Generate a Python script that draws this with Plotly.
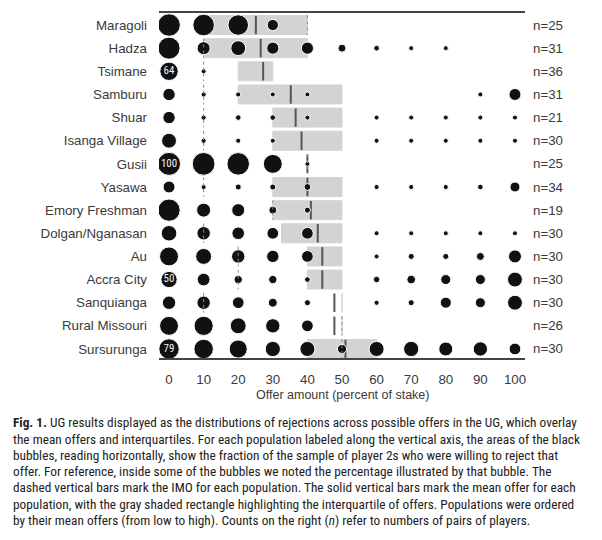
import plotly.graph_objects as go

# ---------------- data ----------------
populations = ["Maragoli", "Hadza", "Tsimane", "Samburu", "Shuar", "Isanga Village",
               "Gusii", "Yasawa", "Emory Freshman", "Dolgan/Nganasan", "Au",
               "Accra City", "Sanquianga", "Rural Missouri", "Sursurunga"]
n_pairs = [25, 31, 36, 31, 21, 30, 25, 34, 19, 30, 30, 30, 30, 26, 30]
offers = [0, 10, 20, 30, 40, 50, 60, 70, 80, 90, 100]

# percent of player 2s rejecting each offer (bubble area)
rej_maragoli = [96, 88, 80, 24, 0, 0, 0, 0, 0, 0, 0]
rej_hadza = [92, 32, 42, 28, 28, 12, 6, 2, 2, 0, 0]
rej_tsimane = [64, 2, 0, 0, 0, 0, 0, 0, 0, 0, 0]
rej_samburu = [29, 5, 5, 4, 2, 0, 0, 0, 0, 2, 27]
rej_shuar = [29, 5, 6, 6, 4, 0, 4, 4, 4, 4, 3]
rej_isanga = [42, 5, 5, 3, 0, 0, 3, 3, 3, 3, 3]
rej_gusii = [100, 98, 96, 68, 4, 0, 0, 0, 0, 0, 0]
rej_yasawa = [27, 5, 7, 7, 9, 0, 5, 5, 5, 6, 19]
rej_emory = [94, 37, 32, 12, 7, 0, 0, 0, 0, 0, 0]
rej_dolgan = [46, 34, 30, 26, 26, 0, 2, 2, 2, 2, 2]
rej_au = [68, 48, 34, 29, 26, 0, 3, 7, 7, 12, 32]
rej_accra = [50, 31, 13, 13, 6, 0, 8, 14, 19, 19, 42]
rej_sanquianga = [34, 34, 26, 15, 7, 0, 5, 7, 23, 19, 42]
rej_missouri = [68, 70, 48, 39, 26, 0, 0, 0, 0, 0, 0]
rej_sursurunga = [79, 72, 62, 44, 43, 16, 43, 44, 37, 39, 26]
rejections = [rej_maragoli, rej_hadza, rej_tsimane, rej_samburu, rej_shuar, rej_isanga,
              rej_gusii, rej_yasawa, rej_emory, rej_dolgan, rej_au, rej_accra,
              rej_sanquianga, rej_missouri, rej_sursurunga]

mean_offer = [25.1, 26.5, 27.2, 35.2, 36.6, 38.3, 40.0, 40.0, 41.0, 43.0, 44.3, 44.3, 47.8, 47.8, 51.0]
iq_low = [10, 10, 20, 20, 30, 30, 40, 30, 30, 32.5, 40, 40, 50, 50, 40]
iq_high = [40, 40, 30, 50, 50, 50, 40, 50, 50, 50, 50, 50, 50, 50, 60]
imo = [40, 10, 10, 10, 10, 10, 40, 10, 30, 10, 20, 20, 10, 50, 50]

# bubbles that carry their percentage as a label
label_pop = ["Tsimane", "Gusii", "Accra City", "Sursurunga"]
label_offer = [0, 0, 0, 0]
label_text = ["64", "100", "50", "79"]

caption_lines = [
    "<b>Fig. 1.</b> UG results displayed as the distributions of rejections across possible offers in the UG, which overlay",
    "the mean offers and interquartiles. For each population labeled along the vertical axis, the areas of the black",
    "bubbles, reading horizontally, show the fraction of the sample of player 2s who were willing to reject that",
    "offer. For reference, inside some of the bubbles we noted the percentage illustrated by that bubble. The",
    "dashed vertical bars mark the IMO for each population. The solid vertical bars mark the mean offer for each",
    "population, with the gray shaded rectangle highlighting the interquartile of offers. Populations were ordered",
    "by their mean offers (from low to high). Counts on the right (<i>n</i>) refer to numbers of pairs of players.",
]

# ---------------- layout geometry ----------------
W, H = 602, 540
L, R, T, B = 159, 525, 13, 358


def px_x(p):
    return (p - L) / (R - L)


def px_y(p):
    return (B - p) / (B - T)


LABEL_FONT = "Liberation Sans, Arial, Helvetica, sans-serif"
CAP_FONT = "Liberation Sans Narrow, Roboto Condensed, Arial Narrow, Liberation Sans, sans-serif"
TXT = "#3a3a3a"

# ---------------- bubbles ----------------
bx, by, bs = [], [], []
for i, row in enumerate(rejections):
    for o, v in zip(offers, row):
        if v > 0:
            bx.append(o)
            by.append(i)
            bs.append(v)

MAXD = 23.0
fig = go.Figure()
fig.add_trace(go.Scatter(
    x=bx, y=by, mode="markers",
    marker=dict(size=bs, sizemode="area", sizeref=2 * 100 / MAXD ** 2, sizemin=2.5,
                color="#111111", opacity=1, line=dict(color="white", width=1)),
    hoverinfo="skip", showlegend=False,
))

fig.add_trace(go.Scatter(
    x=label_offer, y=[populations.index(p) for p in label_pop], mode="text",
    text=label_text, textposition="middle center",
    textfont=dict(color="#f2f2f2", size=11, family=CAP_FONT),
    hoverinfo="skip", showlegend=False,
))

shapes = []
BOX_H = 0.41
for i in range(len(populations)):
    shapes.append(dict(type="rect", xref="x", yref="y", x0=iq_low[i], x1=iq_high[i],
                       y0=i - BOX_H, y1=i + BOX_H, fillcolor="#d3d3d3",
                       line=dict(color="#d3d3d3", width=1), layer="below"))
for i in range(len(populations)):
    shapes.append(dict(type="line", xref="x", yref="y", x0=mean_offer[i], x1=mean_offer[i],
                       y0=i - 0.40, y1=i + 0.40, line=dict(color="#555555", width=2),
                       layer="below"))
for i in range(len(populations)):
    shapes.append(dict(type="line", xref="x", yref="y", x0=imo[i], x1=imo[i],
                       y0=i - 0.42, y1=i + 0.42,
                       line=dict(color="#8a8a8a", width=1, dash="dot"), layer="above"))

annotations = []
for i, n in enumerate(n_pairs):
    annotations.append(dict(x=px_x(531), xref="paper", y=i, yref="y", text=f"n={n}",
                            showarrow=False, xanchor="left", yanchor="middle",
                            font=dict(size=13.3, color=TXT, family=LABEL_FONT)))

annotations.append(dict(x=0.5, xref="paper", y=px_y(395), yref="paper",
                        text="Offer amount (percent of stake)", showarrow=False,
                        xanchor="center", yanchor="middle",
                        font=dict(size=12.5, color=TXT, family=LABEL_FONT)))

cap_y = [422.7, 439, 455.2, 471.5, 487.7, 504, 520.2]
for yy, line in zip(cap_y, caption_lines):
    annotations.append(dict(x=px_x(11), xref="paper", y=px_y(yy), yref="paper",
                            text=line, showarrow=False, xanchor="left", yanchor="middle",
                            font=dict(size=13.3, color="#222222", family=CAP_FONT)))

fig.update_layout(
    width=W, height=H,
    margin=dict(l=L, r=W - R, t=T, b=H - B, pad=0),
    paper_bgcolor="white", plot_bgcolor="white",
    shapes=shapes, annotations=annotations,
    xaxis=dict(range=[-2.9, 102.9], tickvals=offers, ticktext=[str(o) for o in offers],
               showgrid=False, zeroline=False, showline=True, mirror=True,
               linecolor="#444444", linewidth=1.5, ticks="", ticklabelstandoff=8,
               tickfont=dict(size=13.3, color=TXT, family=LABEL_FONT)),
    yaxis=dict(range=[len(populations) - 1 + 0.39, -0.52],
               tickvals=list(range(len(populations))), ticktext=populations,
               showgrid=False, zeroline=False, showline=False, ticks="",
               ticklabelstandoff=11,
               tickfont=dict(size=13.3, color=TXT, family=LABEL_FONT)),
)

fig.write_html("out.html", config={"displayModeBar": False},
               post_script="document.body.style.margin='0';document.body.style.overflow='hidden';")
